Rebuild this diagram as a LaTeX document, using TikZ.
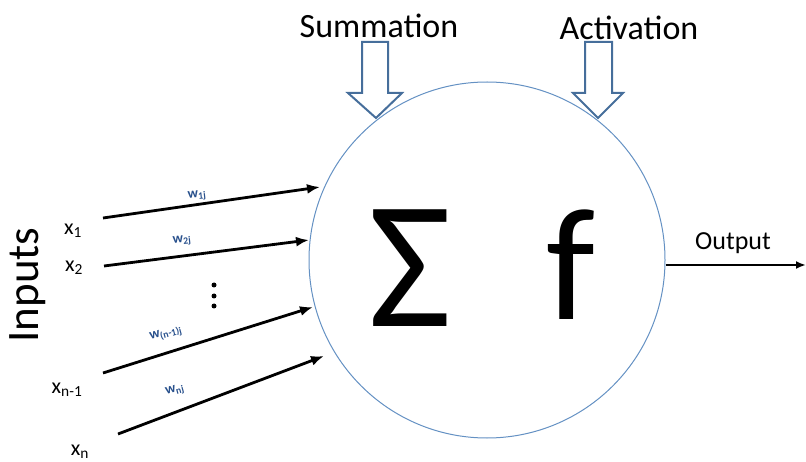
\documentclass[tikz,border=0pt]{standalone}
\usepackage{fontspec}
\setmainfont{Carlito}
\usetikzlibrary{arrows.meta}
\definecolor{ringblue}{RGB}{100,145,195}
\definecolor{blockblue}{RGB}{70,110,155}
\definecolor{weightblue}{RGB}{40,80,140}
\tikzset{
  inarrow/.style={line width=2.8pt,-{Latex[length=13pt,width=10pt]}},
  weight/.style={text=weightblue,font=\fontsize{14}{15}\selectfont\bfseries,inner sep=0pt},
  xlabel/.style={font=\fontsize{22}{24}\selectfont,inner sep=0pt},
  blockarrow/.style={draw=blockblue,line width=2pt,fill=white,line join=miter},
  heading/.style={font=\fontsize{34}{36}\selectfont,inner sep=0pt},
  bigglyph/.style={font=\fontsize{160}{160}\selectfont,inner sep=0pt},
  dotmark/.style={circle,fill=black,minimum size=5pt,inner sep=0pt}
}
\begin{document}
\begin{tikzpicture}[x=1pt,y=-1pt]
\useasboundingbox (0,0) rectangle (806,462);

% neuron body
\node[circle,draw=ringblue,line width=1pt,minimum size=356pt,inner sep=0pt] (neuron) at (487,260) {};
\node[bigglyph,font=\fontsize{182}{182}\selectfont] (sigma) at (410,268) {Σ};
\node[bigglyph] (fun) at (571,265) {f};

% headings with block arrows
\node[heading] (summ) at (379,26) {Summation};
\node[heading] (act) at (629,28) {Activation};
\draw[blockarrow] (362,42) -- (388,42) -- (388,93) -- (402,93) -- (376,118) -- (348,93) -- (362,93) -- cycle;
\draw[blockarrow] (585,42) -- (612,42) -- (612,93) -- (623,93) -- (598,118) -- (573,93) -- (585,93) -- cycle;

% inputs
\node[font=\fontsize{45}{47}\selectfont,rotate=90,inner sep=0pt] (inputs) at (28,285) {Inputs};
\node[xlabel] (x1) at (73,231) {x\textsubscript{1}};
\node[xlabel] (x2) at (74,268) {x\textsubscript{2}};
\node[xlabel] (xn1) at (67,390) {x\textsubscript{n-1}};
\node[xlabel] (xn) at (80,452) {x\textsubscript{n}};

\coordinate (s1) at (103,218); \coordinate (e1) at (320,187);
\coordinate (s2) at (104,266); \coordinate (e2) at (309,240);
\coordinate (s3) at (103,373); \coordinate (e3) at (313,307);
\coordinate (s4) at (118,434); \coordinate (e4) at (324,356);
\draw[inarrow] (s1) -- (e1);
\draw[inarrow] (s2) -- (e2);
\draw[inarrow] (s3) -- (e3);
\draw[inarrow] (s4) -- (e4);

\node[weight,rotate=6] (w1) at (197,196) {w\textsubscript{1j}};
\node[weight,rotate=6] (w2) at (182,241) {w\textsubscript{2j}};
\node[weight,rotate=15] (w3) at (166,334) {w\textsubscript{(n-1)j}};
\node[weight,rotate=15] (w4) at (175,391) {w\textsubscript{nj}};

% vertical ellipsis between the inputs
\node[dotmark] (d1) at (214,285) {};
\node[dotmark] (d2) at (214,296) {};
\node[dotmark] (d3) at (214,306) {};

% output
\coordinate (outend) at (806,265);
\draw[line width=2.8pt,-{Latex[length=10pt,width=8pt]}] (neuron.east |- outend) -- (outend);
\node[font=\fontsize{26}{28}\selectfont,inner sep=0pt] (outlbl) at (733,243) {Output};
\end{tikzpicture}
\end{document}
